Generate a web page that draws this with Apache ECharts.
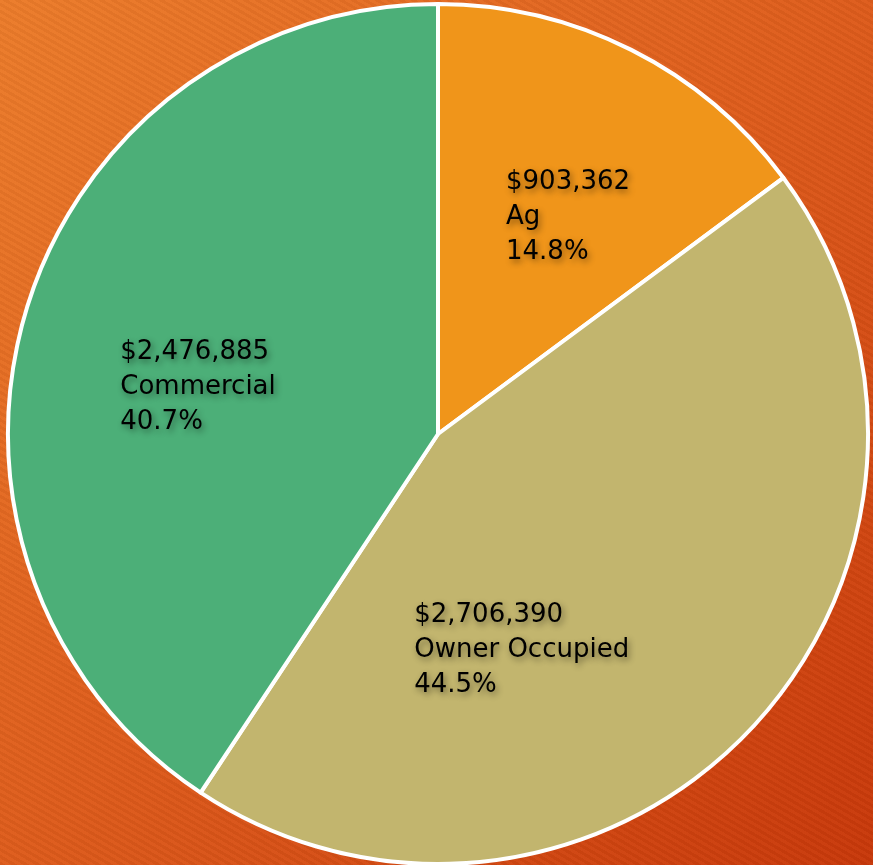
<!DOCTYPE html>
<html>
<head>
<meta charset="utf-8">
<script src="https://cdn.jsdelivr.net/npm/echarts@6/dist/echarts.min.js"></script>
<style>
  html, body { margin: 0; padding: 0; }
  #bg {
    width: 873px; height: 865px; position: relative;
    background:
      repeating-linear-gradient(30deg, rgba(0,0,0,0.035) 0px, rgba(0,0,0,0.035) 3px, rgba(255,255,255,0.02) 3px, rgba(255,255,255,0.02) 6px),
      linear-gradient(135deg, #EC7C2A 0%, #DE5C1C 50%, #C8380A 100%);
  }
  #chart { position: absolute; left: 0; top: 0; width: 873px; height: 865px; }
</style>
</head>
<body>
<div id="bg"><div id="chart"></div></div>
<script>
const categories = ['Ag', 'Owner Occupied', 'Commercial'];
const values = [903362, 2706390, 2476885];
const percentLabels = ['14.8%', '44.5%', '40.7%'];

const colors = ['#F0951A', '#C2B56E', '#4CAF78'];
const labelShift = [[-30, -22], [-182, 66], [-109, 16]];

const chart = echarts.init(document.getElementById('chart'), null, { renderer: 'canvas' });

function money(v) {
  return '$' + v.toString().replace(/\B(?=(\d{3})+(?!\d))/g, ',');
}

chart.setOption({
  backgroundColor: 'transparent',
  animation: false,
  series: [{
    type: 'pie',
    center: [438, 434],
    radius: 430,
    startAngle: 90,
    clockwise: true,
    data: categories.map((c, i) => ({
      name: c,
      value: values[i],
      itemStyle: { color: colors[i] }
    })),
    itemStyle: { borderColor: '#ffffff', borderWidth: 4 },
    emphasis: { disabled: true },
    label: {
      show: true,
      position: 'inside',
      fontFamily: 'DejaVu Sans',
      fontSize: 26,
      lineHeight: 35,
      color: '#000000',
      textShadowColor: 'rgba(0,0,0,0.45)',
      textShadowBlur: 6,
      textShadowOffsetX: 2,
      textShadowOffsetY: 3,
      formatter: p => money(values[p.dataIndex]) + '\n' + categories[p.dataIndex] + '\n' + percentLabels[p.dataIndex]
    },
    labelLine: { show: false },
    labelLayout: p => ({
      align: 'left',
      verticalAlign: 'middle',
      dx: labelShift[p.dataIndex][0],
      dy: labelShift[p.dataIndex][1]
    })
  }]
});
</script>
</body>
</html>
